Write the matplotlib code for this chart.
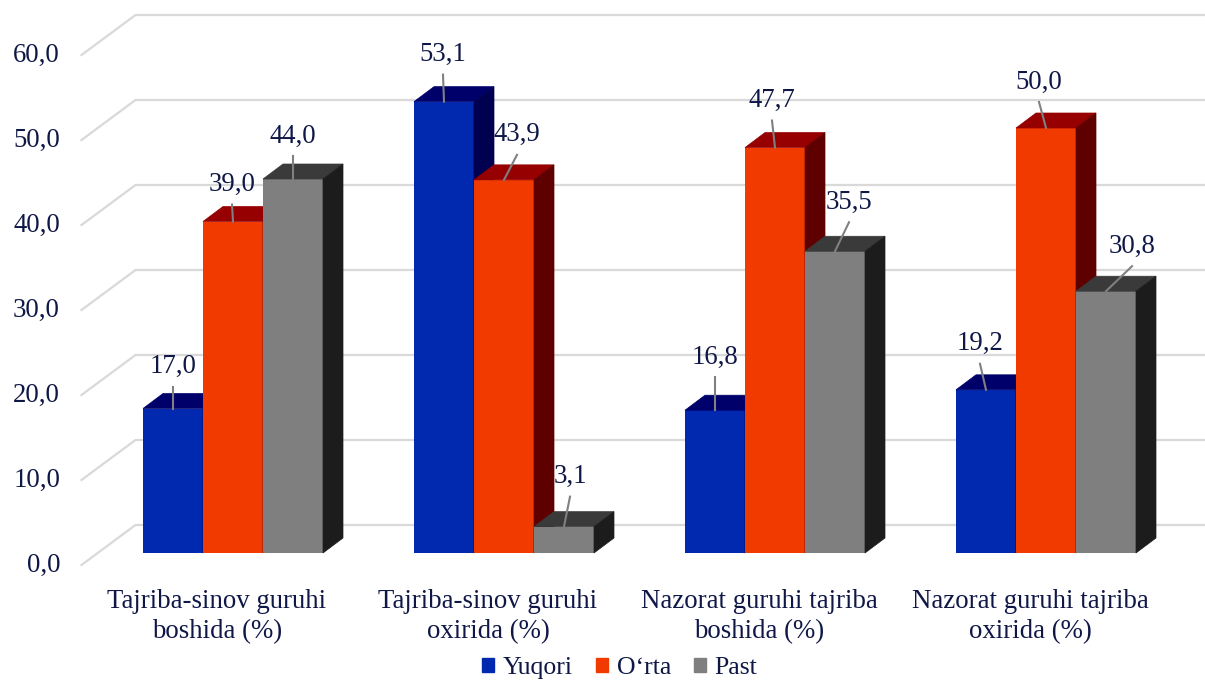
import numpy as np
import matplotlib.pyplot as plt
from matplotlib.patches import Polygon, Patch

### Data
categories = ['Tajriba-sinov guruhi\nboshida (%)', 'Tajriba-sinov guruhi\noxirida (%)',
              'Nazorat guruhi tajriba\nboshida (%)', 'Nazorat guruhi tajriba\noxirida (%)']
series = ['Yuqori', 'O\u2018rta', 'Past']
yuqori = [17.0, 53.1, 16.8, 19.2]
orta = [39.0, 43.9, 47.7, 50.0]
past = [44.0, 3.1, 35.5, 30.8]
yticks = [0, 10, 20, 30, 40, 50, 60]

### Styles
front = ['#0029AF', '#F03A00', '#7F7F7F']
top = ['#00006B', '#960000', '#3A3A3A']
side = ['#000050', '#5E0000', '#1C1C1C']
txt_col = '#0F1747'
grid_col = '#D9D9D9'
# data label offsets (px) from the bar's front top edge (labels were dragged by hand)
lab_off = [[(0, -42), (-1, -47), (0, -53), (-6, -46)],
           [(-1, -37), (13, -45), (-3, -47), (-7, -46)],
           [(0, -43), (6, -50), (14, -49), (26, -45)]]

plt.rcParams['font.family'] = 'Liberation Serif'

### Figure
W, H = 1205, 682
fig = plt.figure(figsize=(W / 100, H / 100), dpi=100)
ax = fig.add_axes([97.5 / W, 129 / H, 1084 / W, 510 / H])
ax.set_xlim(-0.5, 3.5)
ax.set_ylim(0, 60)
ax.axis('off')

## pixel -> data units
px = 4 / 1084
py = 60 / 510

### Gridlines on the back wall + y labels on the front plane
wdx, wdy = 38 * px, 28 * py
ldx, ldy = -16 * px, -12 * py
for v in yticks:
    ax.plot([-0.5 + ldx, -0.5 + wdx, 3.5 + 40 * px], [v + ldy, v + wdy, v + wdy],
            color=grid_col, lw=1.6, clip_on=False, zorder=0)
    ax.text(-0.5 - 37.5 * px, v + ldy, f'{v:.1f}'.replace('.', ','), ha='right', va='center',
            fontsize=19.3, color=txt_col, clip_on=False)

### 3D-ish bars
x = np.arange(len(categories))
bw = 60 * px
ddx, ddy = 20 * px, 15 * py
for i, vals in enumerate([yuqori, orta, past]):
    xs = x + (i - 1) * bw
    bars = ax.bar(xs, vals, width=bw, color=front[i], zorder=2 + i)
    for b in bars:
        x0, x1, h = b.get_x(), b.get_x() + b.get_width(), b.get_height()
        ax.add_patch(Polygon([(x0, h), (x0 + ddx, h + ddy), (x1 + ddx, h + ddy), (x1, h)],
                             fc=top[i], ec=top[i], lw=0.5, zorder=2 + i, clip_on=False))
        ax.add_patch(Polygon([(x1, 0), (x1, h), (x1 + ddx, h + ddy), (x1 + ddx, ddy)],
                             fc=side[i], ec=side[i], lw=0.5, zorder=2 + i, clip_on=False))
    ## data labels with leader lines
    for j, v in enumerate(vals):
        ox, oy = lab_off[i][j]
        lx, ly = xs[j] + ox * px, v - oy * py
        ax.plot([lx, xs[j]], [ly - 20 * py, v], color='#808080', lw=1.5, zorder=10, clip_on=False)
        ax.text(lx, ly, f'{v:.1f}'.replace('.', ','), ha='center', va='center',
                fontsize=19.3, color=txt_col, zorder=11, clip_on=False)

### Category labels
for xi, cat in zip(x, categories):
    ax.text(xi - 16 * px, -64 * py, cat, ha='center', va='center', fontsize=19.3,
            color=txt_col, linespacing=1.27, clip_on=False)

### Legend
handles = [Patch(color=c) for c in front]
fig.legend(handles, series, loc='center', bbox_to_anchor=(620 / W, 1 - 668 / H), ncol=3,
           frameon=False, fontsize=18.5, handlelength=0.45, handleheight=0.45,
           handletextpad=0.35, columnspacing=0.9, labelcolor=txt_col)

fig.savefig('out.png', dpi=100)
